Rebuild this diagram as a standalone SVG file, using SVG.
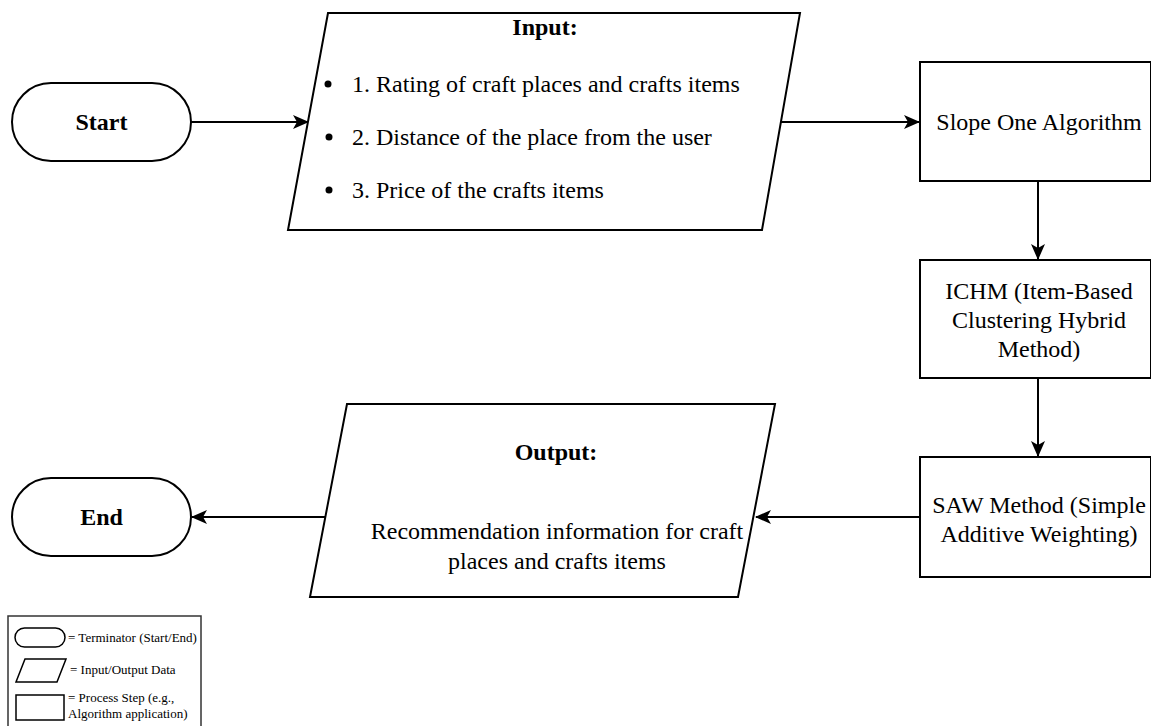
<svg xmlns="http://www.w3.org/2000/svg" width="1151" height="726" viewBox="0 0 1151 726">
  <style>
    .shape { fill: #ffffff; stroke: #000000; stroke-width: 2; }
    .conn { fill: none; stroke: #000000; stroke-width: 2; }
    .t { font-family: "Liberation Serif", "Times New Roman", serif; font-size: 24px; fill: #000000; }
    .b { font-weight: bold; }
    .c { text-anchor: middle; }
    .lg { font-family: "Liberation Serif", "Times New Roman", serif; font-size: 13px; fill: #000000; }
    .lshape { fill: #ffffff; stroke: #000000; stroke-width: 1.5; }
  </style>
  <defs>
    <marker id="arrow" markerWidth="16" markerHeight="14" refX="15" refY="7" orient="auto" markerUnits="userSpaceOnUse">
      <path d="M0,0 L16,7 L0,14 L4,7 Z" fill="#000000"/>
    </marker>
  </defs>
  <rect width="1151" height="726" fill="#ffffff"/>

  <g id="connectors">
    <line class="conn" x1="191" y1="122" x2="308" y2="122" marker-end="url(#arrow)"/>
    <line class="conn" x1="781" y1="122" x2="919" y2="122" marker-end="url(#arrow)"/>
    <line class="conn" x1="1038" y1="181" x2="1038" y2="259" marker-end="url(#arrow)"/>
    <line class="conn" x1="1038" y1="378" x2="1038" y2="456" marker-end="url(#arrow)"/>
    <line class="conn" x1="920" y1="517" x2="756" y2="517" marker-end="url(#arrow)"/>
    <line class="conn" x1="327" y1="517" x2="192" y2="517" marker-end="url(#arrow)"/>
  </g>

  <g id="start">
    <rect class="shape" x="12" y="83" width="179" height="78" rx="39" ry="39"/>
    <text class="t b c" x="101.5" y="130">Start</text>
  </g>

  <g id="input">
    <polygon class="shape" points="328,13 800,13 762,230 288,230"/>
    <text class="t b c" x="545" y="35">Input:</text>
    <circle cx="328" cy="84" r="3.5"/>
    <circle cx="329" cy="137" r="3.5"/>
    <circle cx="329" cy="190" r="3.5"/>
    <text class="t" x="352" y="92">1. Rating of craft places and crafts items</text>
    <text class="t" x="352" y="145">2. Distance of the place from the user</text>
    <text class="t" x="352" y="198">3. Price of the crafts items</text>
  </g>

  <g id="slope-one">
    <rect class="shape" x="920" y="62" width="231" height="119"/>
    <text class="t c" x="1039" y="130">Slope One Algorithm</text>
  </g>

  <g id="ichm">
    <rect class="shape" x="920" y="260" width="231" height="118"/>
    <text class="t c" x="1039" y="299">ICHM (Item-Based</text>
    <text class="t c" x="1039" y="328">Clustering Hybrid</text>
    <text class="t c" x="1039" y="357">Method)</text>
  </g>

  <g id="saw">
    <rect class="shape" x="920" y="457" width="231" height="120"/>
    <text class="t c" x="1039" y="513">SAW Method (Simple</text>
    <text class="t c" x="1039" y="542">Additive Weighting)</text>
  </g>

  <g id="output">
    <polygon class="shape" points="347,404 775,404 738,597 310,597"/>
    <text class="t b c" x="556" y="460">Output:</text>
    <text class="t c" x="557" y="539">Recommendation information for craft</text>
    <text class="t c" x="557" y="569">places and crafts items</text>
  </g>

  <g id="end">
    <rect class="shape" x="12" y="478" width="179" height="78" rx="39" ry="39"/>
    <text class="t b c" x="101.5" y="525">End</text>
  </g>

  <g id="legend">
    <rect x="8" y="616" width="193" height="112" fill="#ffffff" stroke="#333333" stroke-width="1.5"/>
    <rect class="lshape" x="15" y="628" width="50" height="19" rx="9.5" ry="9.5"/>
    <text class="lg" x="68" y="642">= Terminator (Start/End)</text>
    <polygon class="lshape" points="25,659 66,659 57,682 16,682"/>
    <text class="lg" x="70" y="674">= Input/Output Data</text>
    <rect class="lshape" x="16" y="695" width="48" height="25"/>
    <text class="lg" x="68" y="702">= Process Step (e.g.,</text>
    <text class="lg" x="68" y="718">Algorithm application)</text>
  </g>
</svg>
